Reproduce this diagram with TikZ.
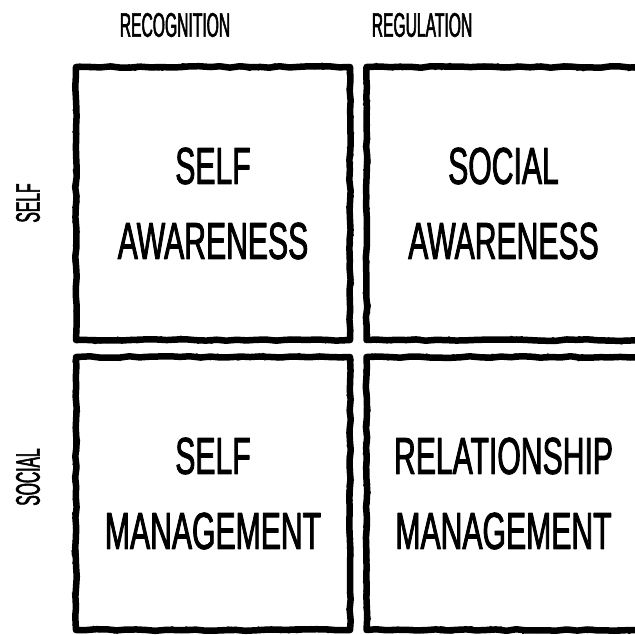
\documentclass[tikz,border=0pt]{standalone}
\usepackage{fontspec}
\usetikzlibrary{decorations.pathmorphing}
% narrow poster-style lettering
\newfontfamily\cellfont[FakeStretch=0.58,FakeBold=1.6]{Liberation Sans}
\newfontfamily\headfont[FakeStretch=0.46,FakeBold=1.6]{Liberation Sans}
\tikzset{
  cell/.style={draw, line width=6.5pt, line join=round,
    minimum width=274pt, minimum height=273pt, inner sep=0pt,
    align=center, font={\cellfont\fontsize{52}{75}\selectfont},
    decorate, decoration={random steps, segment length=10pt, amplitude=0.8pt},
    % ragged brush edge
    postaction={draw, line width=2pt, decorate,
      decoration={random steps, segment length=2.5pt, amplitude=3pt}}},
  head/.style={font={\headfont\fontsize{34}{34}\selectfont}}
}
\begin{document}
\begin{tikzpicture}[x=1pt, y=-1pt]
  \pgfmathsetseed{11}
  \useasboundingbox (0,0) rectangle (635,635);
  % the four quadrants
  \node[cell] (selfaw)   at (213,203.5) {SELF\\AWARENESS};
  \node[cell] (socialaw) at (503.5,203.5) {SOCIAL\\AWARENESS};
  \node[cell] (selfman)  at (213,493.5) {SELF\\MANAGEMENT};
  \node[cell] (relman)   at (503.5,493.5) {RELATIONSHIP\\MANAGEMENT};
  % column and row headings
  \node[head] (recog) at (175,25) {RECOGNITION};
  \node[head] (regul) at (422,25) {REGULATION};
  \node[head, rotate=90] (rself)   at (28,203) {SELF};
  \node[head, rotate=90] (rsocial) at (28,477) {SOCIAL};
\end{tikzpicture}
\end{document}
